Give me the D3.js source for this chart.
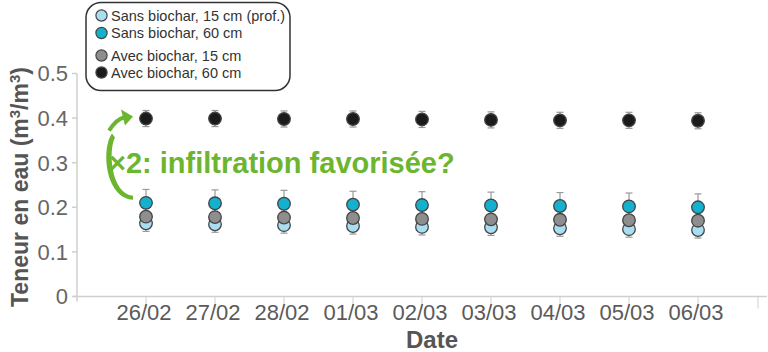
<!DOCTYPE html>
<html>
<head>
<meta charset="utf-8">
<script src="https://cdn.jsdelivr.net/npm/d3@7"></script>
<style>
  body { margin: 0; background: #fff; }
  svg { display: block; font-family: "Liberation Sans", Arial, sans-serif; }
</style>
</head>
<body>
<div id="chart"></div>
<script>
'use strict';

// Data
const dates = ['26/02', '27/02', '28/02', '01/03', '02/03', '03/03', '04/03', '05/03', '06/03'];
const sans15 = [0.164, 0.162, 0.160, 0.158, 0.156, 0.155, 0.153, 0.151, 0.149];
const sans60 = [0.210, 0.209, 0.208, 0.206, 0.205, 0.204, 0.203, 0.202, 0.200];
const avec15 = [0.179, 0.178, 0.177, 0.176, 0.174, 0.173, 0.172, 0.171, 0.170];
const avec60 = [0.399, 0.399, 0.398, 0.398, 0.397, 0.396, 0.395, 0.395, 0.394];
const errors = { sans15: 0.018, sans60: 0.03, avec15: 0.02, avec60: 0.018 };
const yTicks = [0, 0.1, 0.2, 0.3, 0.4, 0.5];

const seriesList = [
    { key: 'sans15', label: 'Sans biochar, 15 cm (prof.)', values: sans15, color: '#a9ddf2' },
    { key: 'avec15', label: 'Avec biochar, 15 cm', values: avec15, color: '#8e8e8e' },
    { key: 'sans60', label: 'Sans biochar, 60 cm', values: sans60, color: '#14b1ce' },
    { key: 'avec60', label: 'Avec biochar, 60 cm', values: avec60, color: '#1b1b1b' }
];
const legendOrder = ['sans15', 'sans60', 'avec15', 'avec60'];

const width = 768, height = 352;
const svg = d3.select('#chart').append('svg')
    .attr('width', width).attr('height', height);

// Scales: dates sit on positions 1..9 of a 0..10 axis
const x = d3.scaleLinear().domain([0, dates.length + 1]).range([77, 767]);
const y = d3.scaleLinear().domain([0, 0.5]).range([296.5, 73.5]);

const axisColor = '#cfcfcf';

// Y axis
svg.append('line')
    .attr('x1', x(0)).attr('x2', x(0))
    .attr('y1', y(0.5)).attr('y2', y(0) + 5)
    .attr('stroke', axisColor).attr('stroke-width', 1.5);

svg.selectAll('line.ytick')
    .data(yTicks)
    .join('line')
    .classed('ytick', true)
    .attr('x1', x(0) - 5).attr('x2', x(0))
    .attr('y1', d => y(d)).attr('y2', d => y(d))
    .attr('stroke', axisColor).attr('stroke-width', 1.5);

svg.selectAll('text.ylab')
    .data(yTicks)
    .join('text')
    .classed('ylab', true)
    .attr('x', x(0) - 9)
    .attr('y', d => y(d))
    .attr('dy', '0.36em')
    .attr('text-anchor', 'end')
    .attr('font-size', 22)
    .attr('fill', '#666')
    .text(d => d === 0 ? '0' : d.toFixed(1));

svg.append('text')
    .attr('transform', `translate(28,${(y(0) + y(0.5)) / 2 + 2}) rotate(-90)`)
    .attr('text-anchor', 'middle')
    .attr('font-size', 23)
    .attr('font-weight', 'bold')
    .attr('fill', '#555')
    .text('Teneur en eau (m')
    .call(t => {
        t.append('tspan').attr('dy', -8).attr('font-size', 15).text('3');
        t.append('tspan').attr('dy', 8).text('/m');
        t.append('tspan').attr('dy', -8).attr('font-size', 15).text('3');
        t.append('tspan').attr('dy', 8).text(')');
    });

// X axis
svg.append('line')
    .attr('x1', x(0) - 4).attr('x2', x(dates.length + 1))
    .attr('y1', y(0)).attr('y2', y(0))
    .attr('stroke', axisColor).attr('stroke-width', 1.5);

svg.selectAll('line.xtick')
    .data(d3.range(1, dates.length + 2))
    .join('line')
    .classed('xtick', true)
    .attr('x1', d => x(d) - (d > dates.length ? 9 : 0))
    .attr('x2', d => x(d) - (d > dates.length ? 9 : 0))
    .attr('y1', y(0)).attr('y2', y(0) + 12)
    .attr('stroke', axisColor).attr('stroke-width', 1);

svg.selectAll('text.xlab')
    .data(dates)
    .join('text')
    .classed('xlab', true)
    .attr('x', (d, i) => x(i + 1) - 2)
    .attr('y', 320)
    .attr('text-anchor', 'middle')
    .attr('font-size', 22)
    .attr('fill', '#5a5a5a')
    .text(d => d);

svg.append('text')
    .attr('x', 432).attr('y', 348)
    .attr('text-anchor', 'middle')
    .attr('font-size', 24)
    .attr('font-weight', 'bold')
    .attr('fill', '#555')
    .text('Date');

// Error bars then points, series by series
seriesList.forEach(s => {
    const err = errors[s.key];
    const g = svg.append('g');
    g.selectAll('line.err')
        .data(s.values)
        .join('line')
        .attr('x1', (d, i) => x(i + 1)).attr('x2', (d, i) => x(i + 1))
        .attr('y1', d => y(d - err)).attr('y2', d => y(d + err))
        .attr('stroke', '#999').attr('stroke-width', 1.2);
    g.selectAll('line.cap')
        .data(s.values.flatMap((d, i) => [[i, d - err], [i, d + err]]))
        .join('line')
        .attr('x1', d => x(d[0] + 1) - 3.5).attr('x2', d => x(d[0] + 1) + 3.5)
        .attr('y1', d => y(d[1])).attr('y2', d => y(d[1]))
        .attr('stroke', '#999').attr('stroke-width', 1.2);
});
seriesList.forEach(s => {
    svg.append('g').selectAll('circle')
        .data(s.values)
        .join('circle')
        .attr('cx', (d, i) => x(i + 1))
        .attr('cy', d => y(d))
        .attr('r', 6.3)
        .attr('fill', s.color)
        .attr('stroke', '#444')
        .attr('stroke-width', 1.3);
});

// Green annotation: curved arrow from the 60 cm points without biochar up to those with biochar
const green = '#6cb52f';
const ax = x(1) - 13;
const yTop = y(avec60[0]) - 1, yBot = y(sans60[0]) - 3;
const midY = (yTop + yBot) / 2;
svg.append('path')
    .attr('d', `M${ax},${yBot}
        C${ax - 28},${yBot - 2} ${ax - 32},${midY - 10} ${ax - 21},${yTop + 16}
        L${ax - 18},${yTop + 20}
        C${ax - 25},${midY - 8} ${ax - 22},${yBot - 6} ${ax},${yBot - 4} Z`)
    .attr('fill', green);
svg.append('path')
    .attr('d', `M${ax - 24},${yTop + 13}
        C${ax - 18},${yTop + 4} ${ax - 14},${yTop + 1} ${ax - 9},${yTop}`)
    .attr('fill', 'none').attr('stroke', green).attr('stroke-width', 4);
svg.append('path')
    .attr('d', `M${ax},${yTop - 1} L${ax - 12},${yTop - 8} L${ax - 8},${yTop + 8} Z`)
    .attr('fill', green);

svg.append('text')
    .attr('x', 109).attr('y', 173)
    .attr('font-size', 29)
    .attr('font-weight', 'bold')
    .attr('fill', green)
    .text('×2: infiltration favorisée?');

// Legend
const legend = svg.append('g');
legend.append('rect')
    .attr('x', 86).attr('y', 2.5)
    .attr('width', 204).attr('height', 88)
    .attr('rx', 15).attr('ry', 15)
    .attr('fill', '#fff')
    .attr('stroke', '#333').attr('stroke-width', 1.5);

const legendY = [15.5, 33, 55.5, 72.5];
const legendItems = legendOrder.map(k => seriesList.find(s => s.key === k));
legend.selectAll('circle')
    .data(legendItems)
    .join('circle')
    .attr('cx', 101.5)
    .attr('cy', (d, i) => legendY[i])
    .attr('r', 5.6)
    .attr('fill', d => d.color)
    .attr('stroke', '#444').attr('stroke-width', 1.2);
legend.selectAll('text')
    .data(legendItems)
    .join('text')
    .attr('x', 111)
    .attr('y', (d, i) => legendY[i])
    .attr('dy', '0.36em')
    .attr('font-size', 14.5)
    .attr('fill', '#333')
    .text(d => d.label);
</script>
</body>
</html>
